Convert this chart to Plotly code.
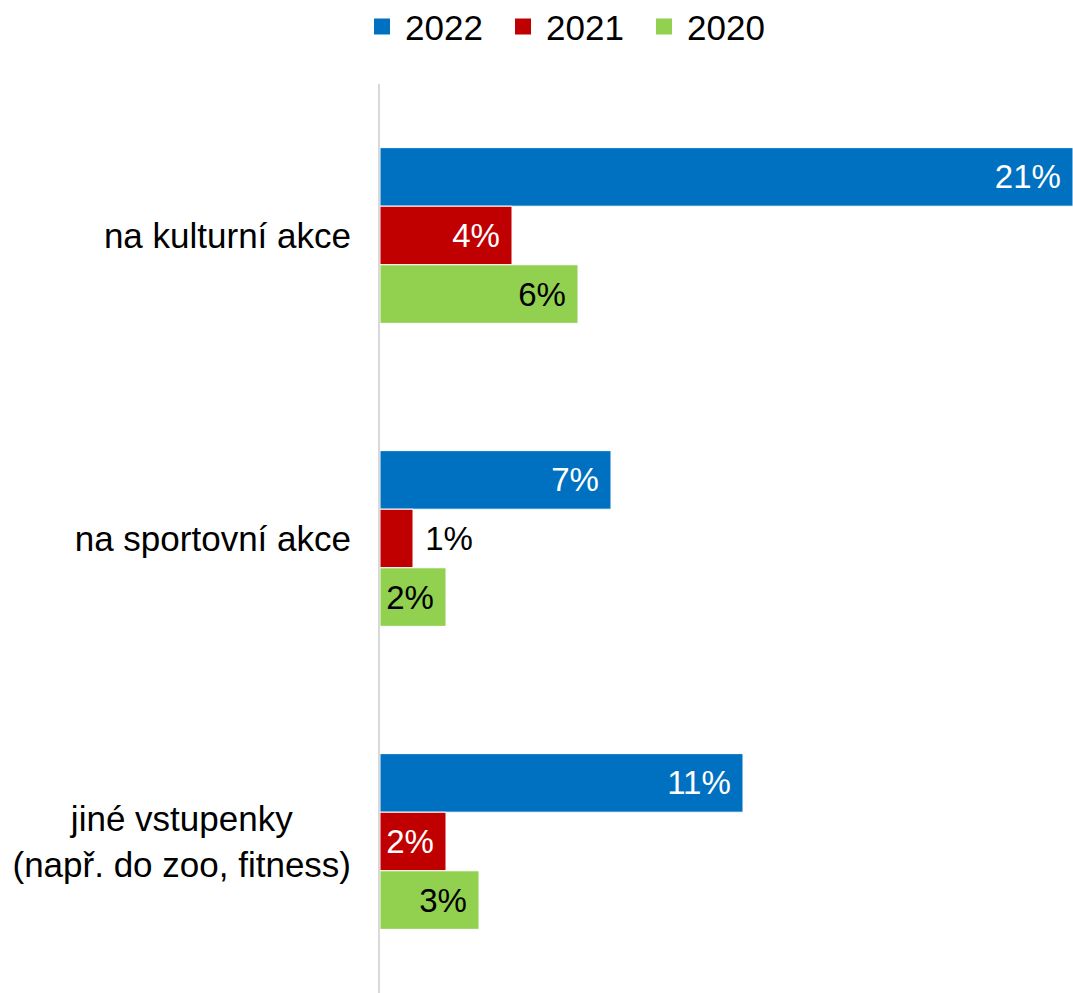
import plotly.graph_objects as go

# Categories (top to bottom) and share of respondents per year, in percent
categories = [
    "na kulturní akce",
    "na sportovní akce",
    "jiné vstupenky<br>(např. do zoo, fitness)",
]
category_ticktext = [
    "na kulturní akce",
    "na sportovní akce",
    "jiné vstupenky\u00a0\u00a0\u00a0\u00a0\u00a0\u00a0<br>(např. do zoo, fitness)",
]
years = ["2022", "2021", "2020"]
values_2022 = [21, 7, 11]
values_2021 = [4, 1, 2]
values_2020 = [6, 2, 3]

series = {"2022": values_2022, "2021": values_2021, "2020": values_2020}
colors = {"2022": "#0070C0", "2021": "#C00000", "2020": "#92D050"}
label_colors = {
    "2022": ["white", "white", "white"],
    "2021": ["white", "black", "white"],
    "2020": ["black", "black", "black"],
}
label_positions = {
    "2022": ["inside", "inside", "inside"],
    "2021": ["inside", "outside", "inside"],
    "2020": ["inside", "inside", "inside"],
}
INSIDE = "%{x}%\u00a0"
OUTSIDE = "\u00a0%{x}%"
label_templates = {
    yr: [INSIDE if p == "inside" else OUTSIDE for p in label_positions[yr]]
    for yr in years
}

FONT = "Liberation Sans, Arial, sans-serif"
FS = 35
FS_VAL = 33

fig = go.Figure()

for yr in years:
    fig.add_trace(go.Bar(
        x=series[yr],
        y=categories,
        orientation="h",
        name=yr,
        marker=dict(color=colors[yr], line=dict(color="white", width=1)),
        texttemplate=label_templates[yr],
        textposition=label_positions[yr],
        textfont=dict(family=FONT, size=FS_VAL, color=label_colors[yr]),
        insidetextanchor="end",
        constraintext="none",
        cliponaxis=False,
        showlegend=False,
        hoverinfo="skip",
    ))

# Square legend keys
for yr in years:
    fig.add_trace(go.Scatter(
        x=[None], y=[None], mode="markers", name=yr,
        marker=dict(symbol="square", size=18, color=colors[yr]),
        showlegend=True, hoverinfo="skip",
    ))

fig.update_layout(
    width=1073,
    height=993,
    margin=dict(l=380, r=0, t=84, b=0),
    paper_bgcolor="white",
    plot_bgcolor="white",
    barmode="group",
    bargap=0.42,
    bargroupgap=0,
    font=dict(family=FONT, size=FS, color="black"),
    legend=dict(
        orientation="h",
        xref="container", yref="container",
        x=0.5317, xanchor="center",
        y=0.973, yanchor="middle",
        font=dict(family=FONT, size=FS, color="black"),
        entrywidth=90,
        itemwidth=36,
    ),
    xaxis=dict(
        range=[0, 21],
        showticklabels=False,
        showgrid=False,
        zeroline=False,
        showline=False,
    ),
    yaxis=dict(
        type="category",
        categoryorder="array",
        categoryarray=categories,
        tickvals=categories,
        ticktext=category_ticktext,
        autorange="reversed",
        showline=True,
        linecolor="#d9d9d9",
        linewidth=2,
        showgrid=False,
        zeroline=False,
        ticks="outside",
        ticklen=20,
        tickcolor="rgba(0,0,0,0)",
        tickfont=dict(family=FONT, size=FS, color="black"),
    ),
)

fig.write_html("out.html")
